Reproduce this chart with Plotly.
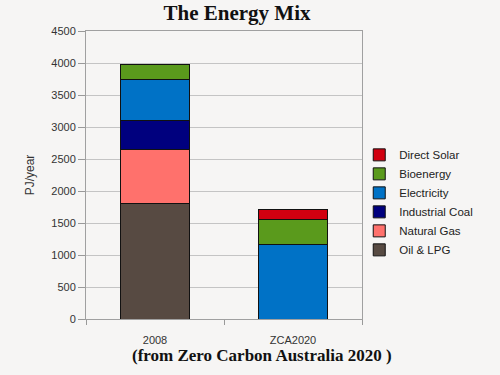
import plotly.graph_objects as go

categories = ["2008", "ZCA2020"]
series_names = ["Oil & LPG", "Natural Gas", "Industrial Coal", "Electricity", "Bioenergy", "Direct Solar"]
oil_lpg = [1800, 0]
natural_gas = [850, 0]
industrial_coal = [450, 0]
electricity = [650, 1160]
bioenergy = [230, 390]
direct_solar = [0, 165]
colors = ["#574a42", "#ff716c", "#00007e", "#0072c6", "#5a9a1c", "#d10010"]
y_ticks = [0, 500, 1000, 1500, 2000, 2500, 3000, 3500, 4000, 4500]

values = [oil_lpg, natural_gas, industrial_coal, electricity, bioenergy, direct_solar]

fig = go.Figure()
for name, vals, col in zip(series_names, values, colors):
    fig.add_trace(go.Bar(
        x=categories, y=vals, name=name,
        marker=dict(color=col, line=dict(color="#111111", width=1)),
        width=0.5,
    ))

fig.update_layout(
    width=500, height=375,
    barmode="stack",
    paper_bgcolor="#f6f5f4",
    plot_bgcolor="#f6f5f4",
    margin=dict(l=86, r=138, t=31, b=56, autoexpand=False),
    title=dict(text="<b>The Energy Mix</b>", x=0.474, xanchor="center", y=0.965, yanchor="middle",
               font=dict(family="Liberation Serif", size=21, color="#111111")),
    legend=dict(traceorder="reversed", x=0.99, xanchor="left", y=0.405, yanchor="middle",
                font=dict(family="Liberation Sans", size=11.5, color="#222222"),
                itemwidth=30, tracegroupgap=0, bgcolor="rgba(0,0,0,0)"),
    showlegend=True,
    font=dict(family="Liberation Sans", color="#333333"),
)
fig.update_yaxes(range=[0, 4500], tickvals=y_ticks, showgrid=True, gridcolor="#c4c4c4", gridwidth=1,
                 ticks="outside", ticklen=7, tickcolor="#999999", automargin=False,
                 showline=True, linecolor="#a0a0a0", mirror=True,
                 tickfont=dict(size=11, color="#333333"),
                 title=dict(text="PJ/year", font=dict(size=12, color="#333333"), standoff=14),
                 zeroline=False)
fig.update_xaxes(showline=True, linecolor="#a0a0a0", mirror=True, ticks="outside", tickson="boundaries",
                 ticklen=5, tickcolor="#999999", tickfont=dict(size=11, color="#333333"),
                 ticklabelstandoff=11, automargin=False)

fig.add_annotation(text="<b>(from Zero Carbon Australia 2020 )</b>", xref="paper", yref="paper",
                   x=0.638, y=-0.125, xanchor="center", yanchor="middle", showarrow=False,
                   font=dict(family="Liberation Serif", size=17, color="#111111"))

fig.write_html("out.html", config={"displayModeBar": False},
               post_script="document.body.style.margin='0';document.body.style.background='#f6f5f4';")
